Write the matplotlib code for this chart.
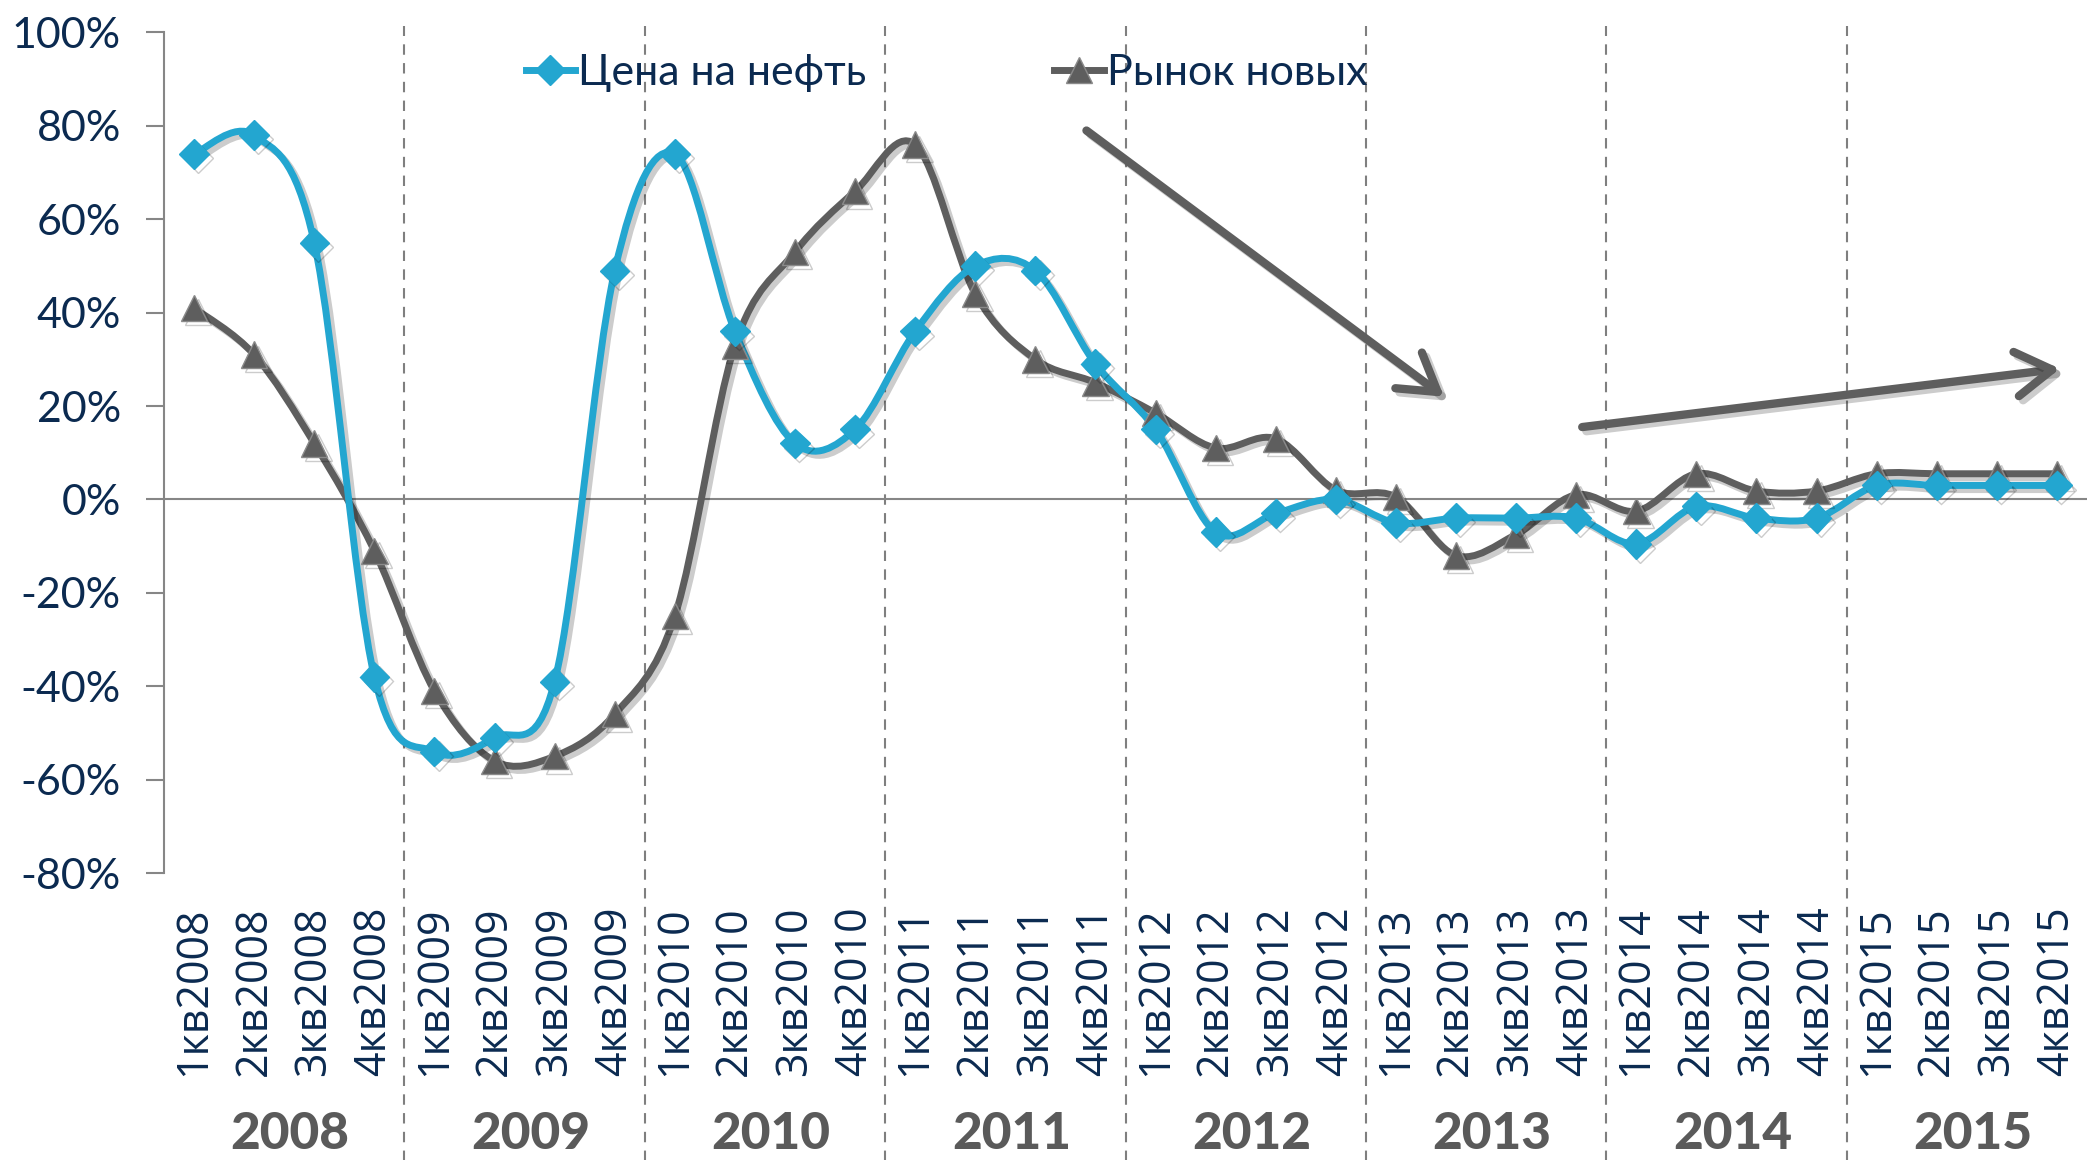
import numpy as np
import matplotlib.pyplot as plt
from matplotlib.path import Path
from matplotlib.patches import PathPatch
from matplotlib.lines import Line2D
from matplotlib.transforms import blended_transform_factory
import matplotlib.patheffects as pe

# quarters 2008..2015
quarters = [f"{q}кв{y}" for y in range(2008, 2016) for q in range(1, 5)]
years = ["2008", "2009", "2010", "2011", "2012", "2013", "2014", "2015"]

oil = [74, 78, 55, -38, -54, -51, -39, 49,
       74, 36, 12, 15, 36, 50, 49, 29,
       15, -7, -3, 0, -5, -4, -4, -4,
       -9.5, -1.5, -4, -4, 3, 3, 3, 3]
market = [41, 31, 12, -11, -41, -56, -55, -46,
          -25, 33, 53, 66, 76, 44, 30, 25,
          18.5, 11, 13, 2, 0.5, -12, -7.5, 1,
          -2.5, 5.5, 1.8, 1.8, 5.5, 5.5, 5.5, 5.5]

# trend arrows (start -> end), data coords
arrow_down = [(14.85, 79), (20.8, 22)]
arrow_up = [(23.1, 15.5), (31.05, 28)]

BLUE = "#23A6D0"
GRAY = "#5E5E5E"
NAVY = "#0B2A50"
FONT = ["Lato", "DejaVu Sans"]


def smooth_path(x, y):
    # excel-like smoothed line: cubic bezier through the points
    p = np.column_stack([x, y]).astype(float)
    ext = np.vstack([p[0], p, p[-1]])
    verts = [p[0]]
    codes = [Path.MOVETO]
    for i in range(len(p) - 1):
        c1 = ext[i + 1] + (ext[i + 2] - ext[i]) / 6
        c2 = ext[i + 2] - (ext[i + 3] - ext[i + 1]) / 6
        verts += [c1, c2, ext[i + 2]]
        codes += [Path.CURVE4] * 3
    return Path(verts, codes)


fig = plt.figure(figsize=(20.87, 11.6), dpi=100)
ax = fig.add_axes([0.0786, 0.2474, 0.9214, 0.7246])
x = np.arange(len(quarters))

ax.axhline(0, color="#868686", lw=1.5, zorder=1)

shadow = [pe.SimpleLineShadow(offset=(3, -3), shadow_color="k", alpha=0.2), pe.Normal()]
for vals, col, mk, ms in [(market, GRAY, "^", 19), (oil, BLUE, "D", 15)]:
    patch = PathPatch(smooth_path(x, vals), fill=False, edgecolor=col, lw=5,
                      capstyle="round", joinstyle="round", zorder=3, path_effects=shadow)
    ax.add_patch(patch)
    ax.plot(x, vals, ls="none", marker=mk, ms=ms, color=col,
            mec="#8A8A8A" if mk == "^" else col, mew=1, zorder=4, path_effects=shadow)

# year separators
trans = blended_transform_factory(ax.transData, ax.transAxes)
for k in range(1, len(years)):
    ax.plot([4 * k - 0.5] * 2, [-0.345, 1.008], transform=trans, clip_on=False,
            color="#7F7F7F", lw=1.5, ls=(0, (5, 4)), zorder=0)
for k, yr in enumerate(years):
    ax.text(4 * k + 1.6, -0.311, yr, transform=trans, ha="center", va="center",
            fontsize=37, fontweight="black", color="#5A5A5A", family=FONT)

for a in (arrow_down, arrow_up):
    ax.annotate("", xy=a[1], xytext=a[0],
                arrowprops=dict(arrowstyle="->,head_length=0.65,head_width=0.4",
                                color=GRAY, lw=6, mutation_scale=40,
                                shrinkA=0, shrinkB=0,
                                path_effects=[pe.SimpleLineShadow(offset=(3, -3), alpha=0.2), pe.Normal()]),
                zorder=5)

ax.set_xlim(-0.5, 31.5)
ax.set_ylim(-80, 100)
ax.set_yticks(np.arange(-80, 101, 20))
ax.set_yticklabels([f"{v}%" for v in range(-80, 101, 20)], family=FONT, fontsize=31, color=NAVY)
ax.set_xticks(x)
ax.set_xticklabels(quarters, rotation=90, fontsize=31, color=NAVY, family=["Open Sans", "DejaVu Sans"],
                   va="top")
ax.tick_params(axis="y", length=13, width=1.5, color="#868686", pad=18)
ax.tick_params(axis="x", length=0, pad=24)
for s in ("top", "right", "bottom"):
    ax.spines[s].set_visible(False)
ax.spines["left"].set_color("#868686")
ax.spines["left"].set_linewidth(1.5)

handles = [Line2D([], [], color=BLUE, lw=5, marker="D", ms=15),
           Line2D([], [], color=GRAY, lw=5, marker="^", ms=19, mec="#8A8A8A")]
fig.legend(handles, ["Цена на нефть", "Рынок новых"], loc="upper left",
           bbox_to_anchor=(0.2415, 0.972), ncol=2, frameon=False, borderpad=0,
           handlelength=1.15, handletextpad=0.08, columnspacing=4.35,
           prop={"family": FONT, "size": 31}, labelcolor=NAVY)

fig.savefig("out.png", dpi=100)
